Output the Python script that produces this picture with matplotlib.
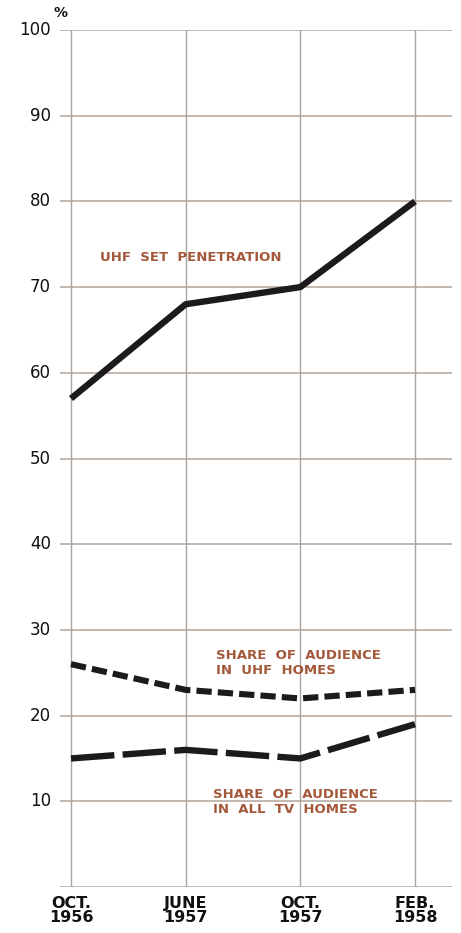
import matplotlib
matplotlib.use("Agg")
import matplotlib.pyplot as plt

# ── Data ──────────────────────────────────────────────────────────────────────
periods = ["OCT.\n1956", "JUNE\n1957", "OCT.\n1957", "FEB.\n1958"]
uhf_penetration = [57, 68, 70, 80]
share_uhf_homes = [26, 23, 22, 23]
share_all_tv = [15, 16, 15, 19]
y_ticks = [10, 20, 30, 40, 50, 60, 70, 80, 90, 100]

_LINE = "#1c1a1a"
_GRID = "#b9aca2"
_VGRID = "#a9a4a0"
_LABEL = "#a4583a"

W, H = 461, 933
fig = plt.figure(figsize=(W / 100, H / 100), dpi=100, facecolor="white")

# axes spans the full extent of the grid lines (px 60..452, y 30..887)
x_step = (415 - 71) / 3
left_px, right_px = 60, 452
ax = fig.add_axes([left_px / W, 1 - 887 / H, (right_px - left_px) / W, (887 - 30) / H])
ax.set_xlim(-(71 - left_px) / x_step, 3 + (right_px - 415) / x_step)
ax.set_ylim(0, 100)
ax.axis("off")

x = list(range(len(periods)))
lab_x = -(71 - 51) / x_step   # right edge of the y labels

# grid
for yv in y_ticks + [0]:
    ax.axhline(yv, color=_GRID, linewidth=1.2, zorder=1)
for xv in x:
    ax.plot([xv, xv], [0, 100], color=_VGRID, linewidth=1.0, zorder=1)

# series
ax.plot(x, uhf_penetration, color=_LINE, linewidth=4.6, solid_capstyle="butt", zorder=3)
ax.plot(x, share_uhf_homes, color=_LINE, linewidth=4.4, dashes=(2.5, 1.0),
        dash_capstyle="butt", zorder=3)
ax.plot(x, share_all_tv, color=_LINE, linewidth=4.6, dashes=(6.8, 1.3),
        dash_capstyle="butt", zorder=3)

# y tick labels
for yv in y_ticks:
    ax.text(lab_x, yv, str(yv), ha="right", va="center", fontsize=12,
            color="#111111", clip_on=False)
ax.text(lab_x + 0.02, 101.2, "%", ha="left", va="bottom",
        fontsize=10, fontweight="bold", color="#111111", clip_on=False)

# x labels
for xv, lab in zip(x, periods):
    ax.text(xv, -1.0, lab, ha="center", va="top", fontsize=11.5, fontweight="bold",
            color="#111111", linespacing=0.95, clip_on=False)

# series labels
ax.text((100 - 71) / x_step, 73.4, "UHF  SET  PENETRATION", ha="left", va="center",
        fontsize=9.5, fontweight="bold", color=_LABEL)
ax.text((216 - 71) / x_step, 26.1, "SHARE  OF  AUDIENCE\nIN  UHF  HOMES", ha="left",
        va="center", fontsize=9.5, fontweight="bold", color=_LABEL, linespacing=1.2)
ax.text((213 - 71) / x_step, 9.9, "SHARE  OF  AUDIENCE\nIN  ALL  TV  HOMES", ha="left",
        va="center", fontsize=9.5, fontweight="bold", color=_LABEL, linespacing=1.2)

fig.savefig("out.png", dpi=100, facecolor="white")
